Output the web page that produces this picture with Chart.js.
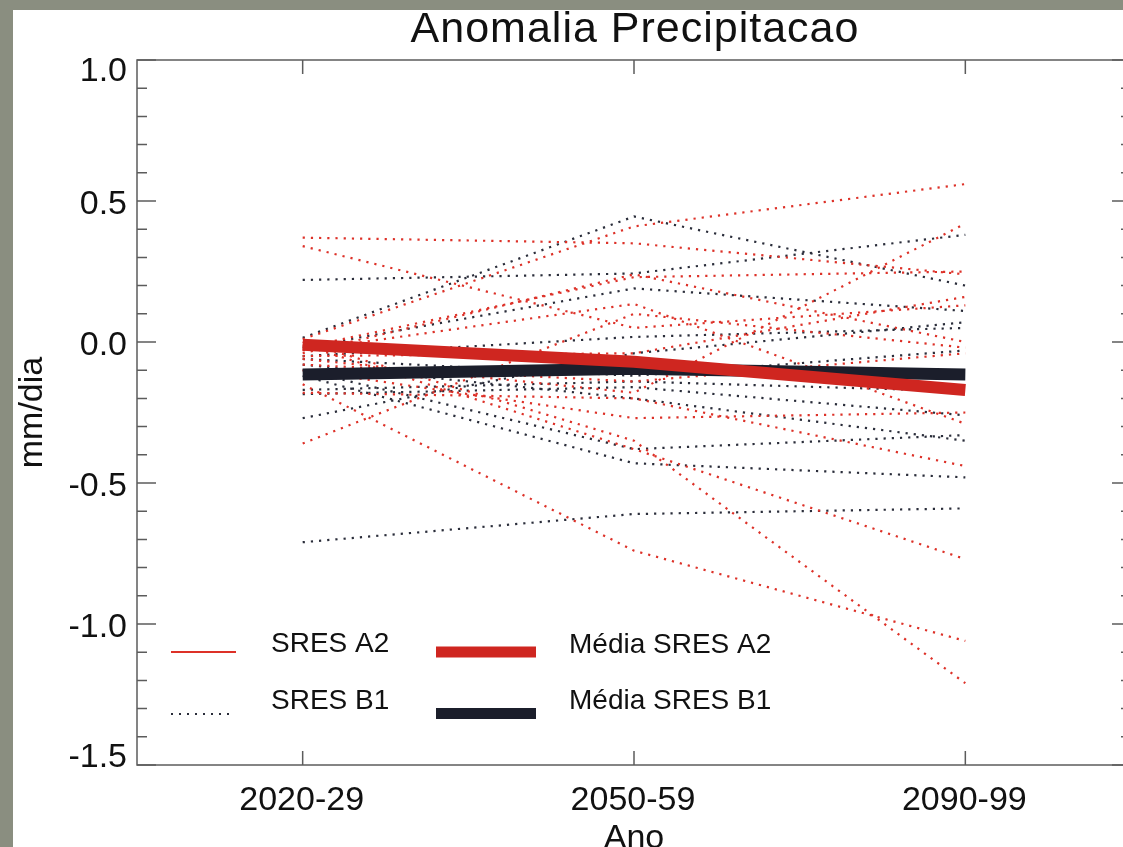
<!DOCTYPE html>
<html>
<head>
<meta charset="utf-8">
<script src="https://cdn.jsdelivr.net/npm/chart.js@4.4.1/dist/chart.umd.min.js"></script>
<style>
  html, body { margin: 0; padding: 0; overflow: hidden; background: #8a8e80; }
  #wrap { position: absolute; left: 0; top: 0; width: 1140px; height: 847px; }
</style>
</head>
<body>
<div id="wrap"><canvas id="chart" width="1140" height="847"></canvas></div>
<script>
// periods on the x axis
const periods = ['2020-29', '2050-59', '2090-99'];

// SRES A2 runs (mm/dia), one row per model: [2020-29, 2050-59, 2090-99]
const a2Runs = [
  [0.37, 0.35, 0.24],
  [0.34, 0.05, 0.13],
  [0.01, 0.41, 0.56],
  [-0.36, 0.10, -0.02],
  [-0.04, 0.24, 0.00],
  [-0.03, 0.135, -0.29],
  [-0.15, -0.74, -1.06],
  [0.00, -0.35, -1.21],
  [-0.01, -0.38, -0.77],
  [-0.02, 0.23, 0.25],
  [-0.06, -0.18, 0.42],
  [-0.05, -0.04, 0.16],
  [-0.08, -0.14, -0.04],
  [-0.10, -0.27, -0.25],
  [-0.18, -0.20, -0.44]
];

// SRES B1 runs
const b1Runs = [
  [0.015, 0.445, 0.20],
  [0.22, 0.243, 0.38],
  [-0.02, 0.19, 0.11],
  [-0.05, 0.018, 0.05],
  [-0.27, -0.04, 0.07],
  [-0.17, -0.14, -0.175],
  [-0.185, -0.16, -0.26],
  [-0.08, -0.20, -0.35],
  [-0.10, -0.38, -0.33],
  [-0.12, -0.43, -0.48],
  [-0.71, -0.61, -0.59],
  [-0.06, -0.12, -0.03]
];

// ensemble means
const a2Mean = [-0.01, -0.07, -0.17];
const b1Mean = [-0.115, -0.095, -0.115];

const yTickLabels = ['-1.5', '-1.0', '-0.5', '0.0', '0.5', '1.0'];
const seriesNames = ['SRES A2', 'SRES B1', 'Média SRES A2', 'Média SRES B1'];

const RED_DOT = '#dd3128';
const BLACK_DOT = '#2a2d3a';
const RED_MEAN = '#cf2620';
const BLACK_MEAN = '#1b1e2b';
const AXIS = '#5c5c5c';
const FONT = '"Liberation Sans", Arial, Helvetica, sans-serif';

const datasets = [];
datasets.push({
  label: seriesNames[2], data: a2Mean, borderColor: RED_MEAN, borderWidth: 12,
  pointRadius: 0, order: 0
});
datasets.push({
  label: seriesNames[3], data: b1Mean, borderColor: BLACK_MEAN, borderWidth: 12,
  pointRadius: 0, order: 1
});
a2Runs.forEach(run => datasets.push({
  label: seriesNames[0], data: run, borderColor: RED_DOT, borderWidth: 2.2,
  borderDash: [2.2, 6], pointRadius: 0, order: 2
}));
b1Runs.forEach(run => datasets.push({
  label: seriesNames[1], data: run, borderColor: BLACK_DOT, borderWidth: 2.2,
  borderDash: [2.2, 6], pointRadius: 0, order: 3
}));

// IDL style frame: inward ticks, labels, title and legend
const idlFrame = {
  id: 'idlFrame',
  beforeDraw(chart) {
    const ctx = chart.ctx;
    ctx.save();
    ctx.fillStyle = '#8a8e80';
    ctx.fillRect(0, 0, chart.width, chart.height);
    ctx.fillStyle = '#ffffff';
    ctx.fillRect(13, 10, chart.width - 13, chart.height - 10);
    ctx.restore();
  },
  afterDraw(chart) {
    const ctx = chart.ctx;
    const { left, right, top, bottom } = chart.chartArea;
    const xs = chart.scales.x;
    const ys = chart.scales.y;
    ctx.save();

    ctx.strokeStyle = AXIS;
    ctx.lineWidth = 1.5;
    ctx.strokeRect(left, top, right - left, bottom - top);

    ctx.beginPath();
    for (let i = -15; i <= 10; i++) {
      const y = ys.getPixelForValue(i / 10);
      const len = i % 5 === 0 ? 19 : 10;
      ctx.moveTo(left, y); ctx.lineTo(left + len, y);
      ctx.moveTo(right, y); ctx.lineTo(right - len, y);
    }
    periods.forEach((p, i) => {
      const x = xs.getPixelForValue(i);
      ctx.moveTo(x, bottom); ctx.lineTo(x, bottom - 14);
      ctx.moveTo(x, top); ctx.lineTo(x, top + 14);
    });
    ctx.stroke();

    ctx.fillStyle = '#111';
    ctx.font = '34px ' + FONT;
    ctx.textBaseline = 'alphabetic';

    ctx.textAlign = 'right';
    yTickLabels.forEach(lbl => {
      let y = ys.getPixelForValue(parseFloat(lbl)) + 1;
      y = Math.min(Math.max(y, top + 9), bottom - 10);
      ctx.fillText(lbl, left - 10, y + 12);
    });

    ctx.textAlign = 'center';
    periods.forEach((p, i) => {
      ctx.fillText(p, xs.getPixelForValue(i) - 1, 810);
    });
    ctx.fillText('Ano', (left + right) / 2, 848);

    ctx.save();
    ctx.translate(42, (top + bottom) / 2);
    ctx.rotate(-Math.PI / 2);
    ctx.fillText('mm/dia', 0, 0);
    ctx.restore();

    ctx.font = '43px ' + FONT;
    ctx.letterSpacing = '1px';
    ctx.fillText('Anomalia Precipitacao', (left + right) / 2 + 1, 42);
    ctx.letterSpacing = '0px';

    // legend
    ctx.lineCap = 'butt';
    ctx.strokeStyle = RED_DOT;
    ctx.lineWidth = 2;
    ctx.beginPath(); ctx.moveTo(171, 652); ctx.lineTo(236, 652); ctx.stroke();
    ctx.strokeStyle = BLACK_DOT;
    ctx.setLineDash([2, 6]);
    ctx.beginPath(); ctx.moveTo(171, 714); ctx.lineTo(233, 714); ctx.stroke();
    ctx.setLineDash([]);
    ctx.lineWidth = 11;
    ctx.strokeStyle = RED_MEAN;
    ctx.beginPath(); ctx.moveTo(436, 652); ctx.lineTo(536, 652); ctx.stroke();
    ctx.strokeStyle = BLACK_MEAN;
    ctx.beginPath(); ctx.moveTo(436, 713.5); ctx.lineTo(536, 713.5); ctx.stroke();

    ctx.font = '28px ' + FONT;
    ctx.textAlign = 'left';
    ctx.fillStyle = '#111';
    ctx.fillText(seriesNames[0], 271, 652);
    ctx.fillText(seriesNames[1], 271, 709);
    ctx.fillText(seriesNames[2], 569, 653);
    ctx.fillText(seriesNames[3], 569, 709);

    ctx.restore();
  }
};

const chart = new Chart(document.getElementById('chart'), {
  type: 'line',
  data: { labels: periods, datasets: datasets },
  options: {
    responsive: false,
    devicePixelRatio: 1,
    animation: false,
    layout: { padding: { left: 137, top: 60, right: 9, bottom: 82 } },
    elements: { line: { tension: 0, fill: false } },
    scales: {
      x: { type: 'category', offset: true, display: false },
      y: { min: -1.5, max: 1.0, display: false }
    },
    plugins: {
      legend: { display: false },
      tooltip: { enabled: false },
      title: { display: false }
    }
  },
  plugins: [idlFrame]
});
</script>
</body>
</html>
